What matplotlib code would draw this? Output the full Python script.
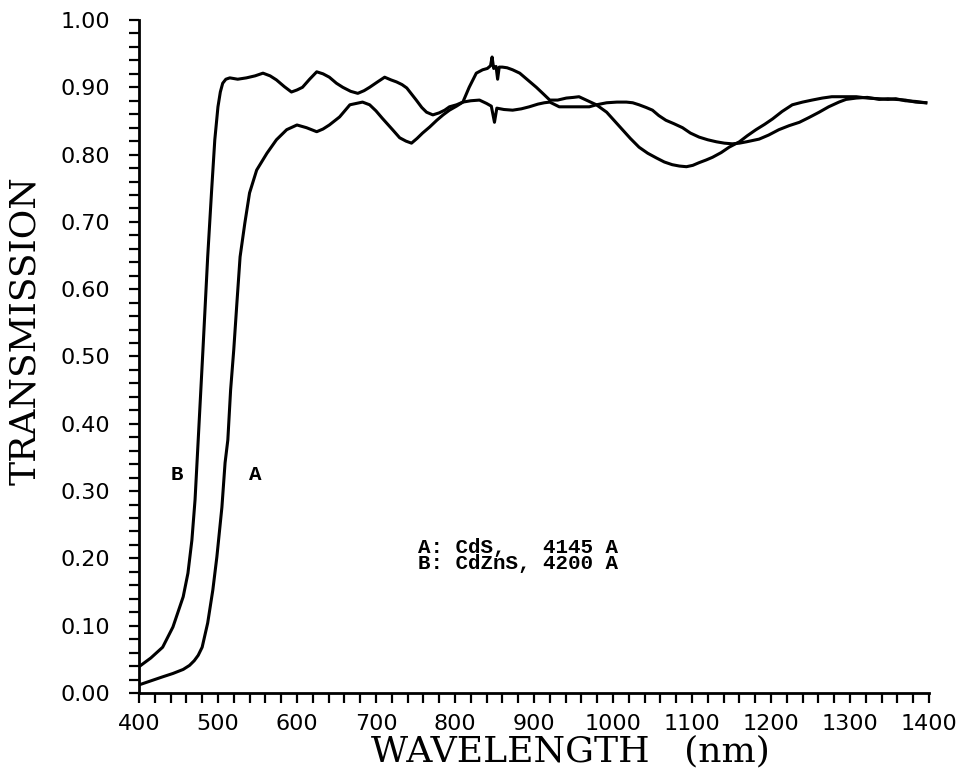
import numpy as np
import matplotlib
matplotlib.use("Agg")
import matplotlib.pyplot as plt
from matplotlib.ticker import MultipleLocator, FormatStrFormatter

# Curve B: CdZnS, 4200 A
wl_b = [400, 415, 430, 443, 456, 462, 467, 471, 475, 481, 487, 492, 496, 500, 503, 506, 510, 515,
        525, 536, 547, 557, 566, 574, 584, 593, 600, 607, 616, 625, 633, 641, 650, 658, 668, 677,
        685, 692, 702, 711, 719, 726, 733, 739, 745, 751, 758, 764, 772, 780, 787, 793, 802, 810,
        818, 827, 835, 841, 845, 847, 849, 852, 854, 856, 860, 866, 873, 882, 892, 903, 912, 920,
        930, 941, 950, 957, 968, 979, 992, 1002, 1012, 1022, 1033, 1044, 1055, 1065, 1075, 1084,
        1093, 1101, 1109, 1118, 1126, 1137, 1147, 1160, 1170, 1181, 1192, 1202, 1214, 1227, 1240,
        1252, 1265, 1277, 1290, 1308, 1322, 1337, 1348, 1358, 1370, 1383, 1396]
t_b = [0.039, 0.052, 0.068, 0.098, 0.143, 0.178, 0.227, 0.287, 0.376, 0.51, 0.648, 0.747, 0.822,
       0.871, 0.893, 0.906, 0.912, 0.914, 0.912, 0.914, 0.917, 0.921, 0.917, 0.911, 0.901, 0.893,
       0.896, 0.900, 0.912, 0.923, 0.920, 0.915, 0.906, 0.900, 0.894, 0.891, 0.895, 0.900, 0.908,
       0.915, 0.911, 0.908, 0.904, 0.899, 0.890, 0.881, 0.870, 0.863, 0.859, 0.862, 0.866, 0.871,
       0.874, 0.878, 0.900, 0.921, 0.926, 0.928, 0.932, 0.945, 0.928, 0.931, 0.912, 0.930, 0.930,
       0.929, 0.926, 0.921, 0.911, 0.900, 0.890, 0.881, 0.881, 0.884, 0.885, 0.886, 0.880, 0.874,
       0.863, 0.850, 0.837, 0.824, 0.811, 0.802, 0.795, 0.789, 0.785, 0.783, 0.782, 0.784, 0.788,
       0.792, 0.796, 0.803, 0.811, 0.819, 0.828, 0.837, 0.845, 0.853, 0.864, 0.874, 0.878, 0.881,
       0.884, 0.886, 0.886, 0.886, 0.884, 0.883, 0.882, 0.883, 0.880, 0.879, 0.877]

# Curve A: CdS, 4145 A
wl_a = [400, 415, 430, 443, 456, 464, 470, 475, 480, 487, 493.5, 498.6, 505, 509, 512.5, 516, 520,
        524, 528, 534, 540, 549, 562, 574, 587, 600, 612, 625, 633, 641, 654, 667, 683, 692, 700,
        708, 721, 730, 738, 745, 752, 759, 768, 777, 785, 793, 802, 810, 820, 831, 840, 846, 850,
        853, 862, 873, 884, 894, 905, 913, 920, 932, 942, 950, 960, 970, 979, 992, 1005, 1017, 1025,
        1033, 1042, 1050, 1058, 1067, 1077, 1088, 1098, 1109, 1120, 1131, 1141, 1151, 1160, 1169,
        1177, 1185, 1197, 1210, 1223, 1236, 1248, 1261, 1273, 1286, 1295, 1308, 1322, 1337, 1348,
        1358, 1370, 1383, 1396]
t_a = [0.012, 0.018, 0.024, 0.029, 0.035, 0.041, 0.048, 0.056, 0.068, 0.104, 0.153, 0.202, 0.276,
       0.342, 0.376, 0.45, 0.51, 0.58, 0.648, 0.698, 0.743, 0.777, 0.802, 0.822, 0.837, 0.844,
       0.840, 0.834, 0.838, 0.844, 0.856, 0.874, 0.878, 0.874, 0.865, 0.854, 0.837, 0.825, 0.820,
       0.817, 0.824, 0.832, 0.841, 0.851, 0.859, 0.866, 0.872, 0.878, 0.880, 0.881, 0.876, 0.872,
       0.848, 0.869, 0.867, 0.866, 0.868, 0.871, 0.875, 0.877, 0.878, 0.871, 0.871, 0.871, 0.871,
       0.871, 0.874, 0.877, 0.878, 0.878, 0.877, 0.874, 0.870, 0.866, 0.858, 0.851, 0.846, 0.840,
       0.832, 0.826, 0.822, 0.819, 0.817, 0.816, 0.817, 0.819, 0.821, 0.823, 0.829, 0.837, 0.843,
       0.848, 0.855, 0.863, 0.871, 0.878, 0.882, 0.884, 0.885, 0.882, 0.883, 0.882, 0.881, 0.878,
       0.877]

legend_lines = ["A: CdS,   4145 A", "B: CdZnS, 4200 A"]

fig = plt.figure(figsize=(9.69, 7.81), dpi=100)
ax = fig.add_axes([0.1434, 0.1127, 0.8153, 0.8617])

ax.plot(wl_b, t_b, color="black", lw=2.2)
ax.plot(wl_a, t_a, color="black", lw=2.2)

ax.set_xlim(400, 1400)
ax.set_ylim(0, 1.0)

for side in ["top", "right"]:
    ax.spines[side].set_visible(False)
for side in ["left", "bottom"]:
    ax.spines[side].set_linewidth(2.0)

ax.xaxis.set_major_locator(MultipleLocator(100))
ax.xaxis.set_minor_locator(MultipleLocator(20))
ax.yaxis.set_major_locator(MultipleLocator(0.1))
ax.yaxis.set_minor_locator(MultipleLocator(0.02))
ax.yaxis.set_major_formatter(FormatStrFormatter("%.2f"))
ax.tick_params(axis="both", which="both", direction="out", length=7, width=1.6)
ax.tick_params(axis="y", which="major", pad=14, labelsize=16)
ax.tick_params(axis="x", which="major", pad=8, labelsize=16)

ax.set_xlabel("WAVELENGTH   (nm)", family="DejaVu Serif", fontsize=26)
ax.set_ylabel("TRANSMISSION", family="DejaVu Serif", fontsize=26)
ax.xaxis.set_label_coords(0.5456, -0.061)
ax.yaxis.set_label_coords(-0.123, 0.539)

mono = dict(family="Liberation Mono", fontweight="bold", fontsize=15)
ax.text(448, 0.324, "B", ha="center", va="center", **mono)
ax.text(547, 0.324, "A", ha="center", va="center", **mono)
ax.text(753, 0.205, "\n".join(legend_lines), ha="left", va="center",
        linespacing=0.8, **mono)

fig.savefig("out.png", dpi=100)
